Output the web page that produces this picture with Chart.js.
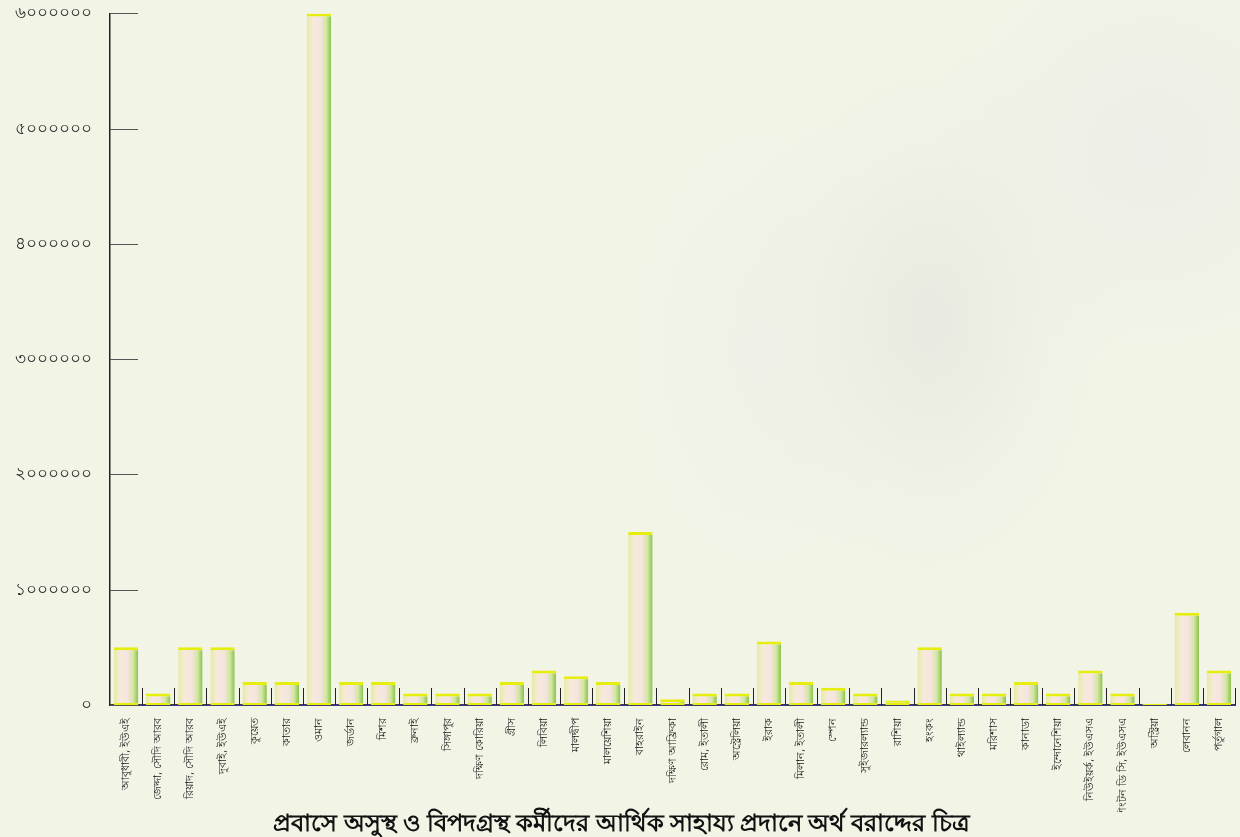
<!DOCTYPE html>
<html>
<head>
<meta charset="utf-8">
<script src="https://cdn.jsdelivr.net/npm/chart.js@4.4.1/dist/chart.umd.min.js"></script>
<style>
  html, body { margin: 0; padding: 0; }
  body {
    width: 1240px; height: 837px; overflow: hidden;
    background:
      radial-gradient(ellipse 200px 300px at 930px 320px, rgba(228,229,222,0.7), rgba(236,238,228,0.35) 60%, rgba(243,245,232,0) 100%),
      radial-gradient(ellipse 220px 220px at 1150px 150px, rgba(236,237,232,0.8), rgba(243,245,232,0) 100%),
      radial-gradient(ellipse 150px 260px at 760px 350px, rgba(238,240,233,0.7), rgba(243,245,232,0) 100%),
      #f2f4e6;
  }
  #wrap { position: relative; width: 1240px; height: 837px; }
</style>
</head>
<body>
<div id="wrap"><canvas id="aidChart" width="1240" height="837"></canvas></div>
<script>
// Destinations (x axis)
const places = [
  'আবুধাবী, ইউএই', 'জেদ্দা, সৌদি আরব', 'রিয়াদ, সৌদি আরব', 'দুবাই, ইউএই', 'কুয়েত',
  'কাতার', 'ওমান', 'জর্ডান', 'মিশর', 'ব্রুনাই',
  'সিঙ্গাপুর', 'দক্ষিণ কোরিয়া', 'গ্রীস', 'লিবিয়া', 'মালদ্বীপ',
  'মালয়েশিয়া', 'বাহরাইন', 'দক্ষিণ আফ্রিকা', 'রোম, ইতালী', 'অস্ট্রেলিয়া',
  'ইরাক', 'মিলান, ইতালী', 'স্পেন', 'সুইজারল্যান্ড', 'রাশিয়া',
  'হংকং', 'থাইল্যান্ড', 'মরিশাস', 'কানাডা', 'ইন্দোনেশিয়া',
  'নিউইয়র্ক, ইউএসএ', 'ওয়াশিংটন ডি সি, ইউএসএ', 'অস্ট্রিয়া', 'লেবানন', 'পর্তুগাল'
];

// Allocated amount (taka)
const amounts = [
  500000, 100000, 500000, 500000, 200000,
  200000, 6000000, 200000, 200000, 100000,
  100000, 100000, 200000, 300000, 250000,
  200000, 1500000, 50000, 100000, 100000,
  550000, 200000, 150000, 100000, 40000,
  500000, 100000, 100000, 200000, 100000,
  300000, 100000, 10000, 800000, 300000
];

const yTicks = [0, 1000000, 2000000, 3000000, 4000000, 5000000, 6000000];
const chartTitle = 'প্রবাসে অসুস্থ ও বিপদগ্রস্থ কর্মীদের আর্থিক সাহায্য প্রদানে অর্থ বরাদ্দের চিত্র';

const bnDigits = ['০','১','২','৩','৪','৫','৬','৭','৮','৯'];
function toBangla(n) {
  return String(n).replace(/[0-9]/g, d => bnDigits[d]);
}

const BAR_PCT = 0.76;

// horizontal gradient for each bar, like a small cylinder
function barFill(context) {
  const chart = context.chart;
  const xs = chart.scales.x;
  if (!xs || !xs.width) return '#f4e8e0';
  const cx = xs.getPixelForValue(context.dataIndex);
  const w = xs.width / places.length * BAR_PCT;
  const g = chart.ctx.createLinearGradient(cx - w / 2, 0, cx + w / 2, 0);
  g.addColorStop(0, '#e6eaa6');
  g.addColorStop(0.25, '#f6ead8');
  g.addColorStop(0.55, '#f6e4e2');
  g.addColorStop(0.8, '#d3e6a0');
  g.addColorStop(1, '#88c24c');
  return g;
}

// short tick marks drawn inside the plot
const innerTicks = {
  id: 'innerTicks',
  afterDatasetsDraw(chart) {
    const ctx = chart.ctx;
    const xs = chart.scales.x, ys = chart.scales.y;
    const area = chart.chartArea;
    ctx.save();
    ctx.strokeStyle = '#555';
    ctx.lineWidth = 1;
    ys.ticks.forEach((t, i) => {
      const y = Math.round(ys.getPixelForTick(i)) + 0.5;
      ctx.beginPath();
      ctx.moveTo(area.left, y);
      ctx.lineTo(area.left + 28, y);
      ctx.stroke();
    });
    ctx.strokeStyle = '#222';
    for (let i = 1; i <= places.length; i++) {
      const x = Math.round(xs.getPixelForValue(i - 0.5)) + 0.5;
      ctx.beginPath();
      ctx.moveTo(x, area.bottom);
      ctx.lineTo(x, area.bottom - 17);
      ctx.stroke();
    }
    ctx.restore();
  }
};

const ctx = document.getElementById('aidChart').getContext('2d');
const aidChart = new Chart(ctx, {
  type: 'bar',
  data: {
    labels: places,
    datasets: [{
      data: amounts,
      backgroundColor: barFill,
      borderColor: '#e6ee10',
      borderWidth: { top: 3, bottom: 2, left: 0, right: 0 },
      borderSkipped: false,
      barPercentage: BAR_PCT,
      categoryPercentage: 1
    }]
  },
  plugins: [innerTicks],
  options: {
    responsive: false,
    animation: false,
    layout: { padding: { top: 6, right: 5, left: 8, bottom: 0 } },
    plugins: {
      legend: { display: false },
      tooltip: { enabled: false },
      title: {
        display: true,
        text: chartTitle,
        position: 'bottom',
        color: '#111',
        font: { family: "'Noto Sans', 'DejaVu Sans', sans-serif", size: 24, weight: 'bold', lineHeight: 1 },
        padding: { top: 0, bottom: 1 }
      }
    },
    scales: {
      x: {
        grid: { display: false },
        border: { display: true, color: '#3a3a70', width: 2 },
        afterFit(scale) { scale.height = 107; },
        ticks: {
          autoSkip: false,
          minRotation: 90,
          maxRotation: 90,
          color: '#222',
          padding: 5,
          font: { family: "'Noto Sans', 'DejaVu Sans', sans-serif", size: 11 }
        }
      },
      y: {
        min: 0,
        max: 6000000,
        afterBuildTicks(axis) {
          axis.ticks = yTicks.map(v => ({ value: v }));
        },
        afterFit(scale) { scale.width = 102; },
        grid: { display: false },
        border: { display: true, color: '#222', width: 1.5 },
        ticks: {
          color: '#222',
          padding: 10,
          font: { family: "'Noto Sans', 'DejaVu Sans', sans-serif", size: 17, lineHeight: 0.4 },
          callback: v => toBangla(v)
        }
      }
    }
  }
});
</script>
</body>
</html>
